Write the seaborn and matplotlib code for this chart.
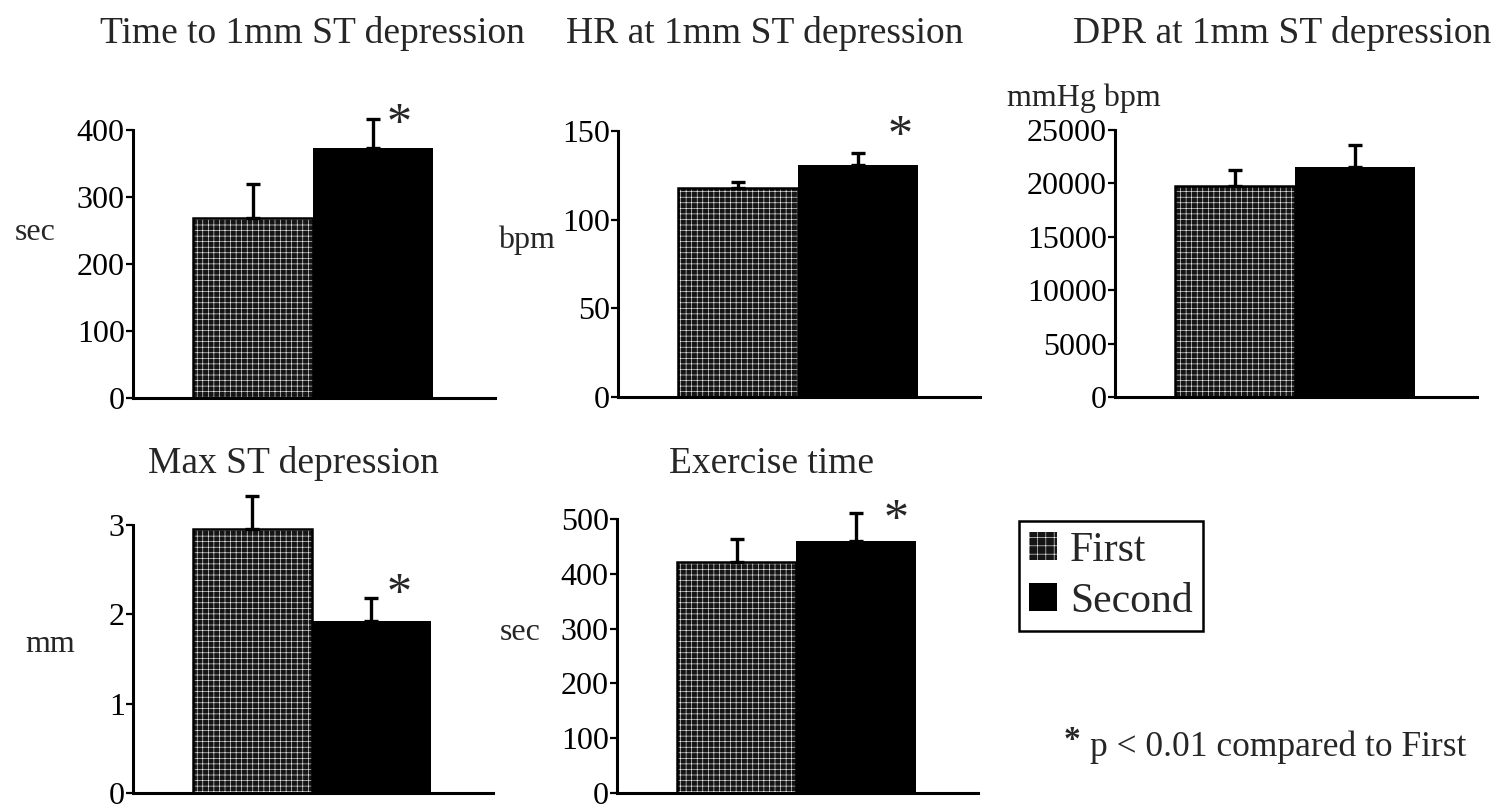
import numpy as np
import matplotlib
matplotlib.use("Agg")
import matplotlib.pyplot as plt
from matplotlib.patches import Patch, Rectangle
import seaborn as sns

# ---- data -------------------------------------------------------------
groups = ["First", "Second"]

titles = [
    "Time to 1mm ST depression",
    "HR at 1mm ST depression",
    "DPR at 1mm ST depression",
    "Max ST depression",
    "Exercise time",
]
units = ["sec", "bpm", "mmHg bpm", "mm", "sec"]

time_to_st = [268, 373]
time_to_st_err = [52, 43]
hr_at_st = [118, 131]
hr_at_st_err = [3.5, 6.5]
dpr_at_st = [19800, 21500]
dpr_at_st_err = [1500, 2100]
max_st = [2.95, 1.92]
max_st_err = [0.38, 0.26]
exercise_time = [421, 460]
exercise_time_err = [42, 51]

# Second session differs from First at p < 0.01
significant = [True, True, False, True, True]

y_ticks = [
    [0, 100, 200, 300, 400],
    [0, 50, 100, 150],
    [0, 5000, 10000, 15000, 20000, 25000],
    [0, 1, 2, 3],
    [0, 100, 200, 300, 400, 500],
]

footnote_mark = "*"
footnote = "p < 0.01 compared to First"

# ---- style ------------------------------------------------------------
sns.set_style("ticks")
plt.rcParams["font.family"] = ["Liberation Serif", "DejaVu Serif"]
plt.rcParams["hatch.linewidth"] = 0.45

W, H = 1504, 808
fig = plt.figure(figsize=(W / 100, H / 100), dpi=100)
fig.patch.set_facecolor("white")


def fx(x):
    return x / W


def fy(y):
    return 1 - y / H


# axes boxes in pixels: left, top, right, bottom
boxes = [
    (133, 130, 495, 397.5),
    (618, 131, 980, 397),
    (1115, 130, 1477, 397),
    (133, 525, 493, 793),
    (617, 519, 978, 793),
]
title_pos = [(312, 43), (765, 43), (1282, 43), (293, 473), (771, 473)]
unit_pos = [(35, 233), (526, 240), (1084, 98), (50, 645), (520, 632)]
# star offset from the top of the Second error bar, in pixels (right, up)
star_off = [(26, 0), (42, 22), (0, 0), (28, 9), (40, -2)]

panels = [
    (time_to_st, time_to_st_err),
    (hr_at_st, hr_at_st_err),
    (dpr_at_st, dpr_at_st_err),
    (max_st, max_st_err),
    (exercise_time, exercise_time_err),
]

FIRST_FACE = "#151515"
SECOND_FACE = "#000000"
HATCH = "+++"

for i, ((vals, errs), box) in enumerate(zip(panels, boxes)):
    l, t, r, b = box
    ax = fig.add_axes([fx(l), fy(b), (r - l) / W, (b - t) / H])
    sns.barplot(
        x=groups, y=vals, hue=groups, palette=[FIRST_FACE, SECOND_FACE],
        width=1.0, errorbar=None, legend=False, saturation=1,
        linewidth=0, ax=ax,
    )
    # textured fill for the first session, with a thin black outline
    p0 = ax.patches[0]
    p0.set_hatch(HATCH)
    p0.set_edgecolor("#e8e8e8")
    p0.set_linewidth(0)
    ax.add_patch(Rectangle(p0.get_xy(), p0.get_width(), p0.get_height(),
                           fill=False, edgecolor="black", linewidth=1.8,
                           zorder=p0.get_zorder() + 0.1))

    xs = np.arange(len(groups))
    ax.errorbar(xs, vals, yerr=[np.zeros(len(vals)), errs], fmt="none",
                ecolor="black", elinewidth=2.4, capsize=5, capthick=2.4,
                clip_on=False, zorder=3)

    ax.set_xlim(-1.0, 2.02)
    ax.set_ylim(0, y_ticks[i][-1])
    ax.set_yticks(y_ticks[i])
    ax.set_xticks([])
    ax.set_xlabel("")
    ax.set_ylabel("")
    sns.despine(ax=ax)
    for s in ("left", "bottom"):
        ax.spines[s].set_linewidth(2.2)
        ax.spines[s].set_color("black")
    ax.tick_params(axis="y", length=5, width=1.6, labelsize=23, pad=1,
                   colors="black")

    if significant[i]:
        top = vals[1] + errs[1]
        dx, dy = star_off[i]
        disp = ax.transData.transform((1, top))
        sx, sy = disp[0] + dx, disp[1] + dy
        fig.text(sx / W, sy / H, "*", fontsize=36, ha="center",
                 va="center_baseline")

    tx, ty = title_pos[i]
    fig.text(fx(tx), fy(ty), titles[i], fontsize=27, ha="center",
             va="baseline")
    ux, uy = unit_pos[i]
    fig.text(fx(ux), fy(uy), units[i], fontsize=23, ha="center", va="center")

handles = [
    Patch(facecolor=FIRST_FACE, edgecolor="#e8e8e8", hatch="++", linewidth=0),
    Patch(facecolor=SECOND_FACE, edgecolor=SECOND_FACE, linewidth=0),
]
leg = fig.legend(handles, groups, loc="upper left",
                 bbox_to_anchor=(fx(1019), fy(521)), fontsize=30,
                 frameon=True, fancybox=False, edgecolor="black",
                 framealpha=1, handlelength=0.67, handleheight=0.67,
                 handletextpad=0.3, borderpad=0.25, labelspacing=0.3,
                 borderaxespad=0)
leg.get_frame().set_linewidth(1.8)

fig.text(fx(1064), fy(741), footnote_mark, fontsize=24, fontweight="bold",
         ha="left", va="center")
fig.text(fx(1090), fy(747), footnote, fontsize=25.5, ha="left", va="center")

fig.savefig("out.png", dpi=100, facecolor="white")
